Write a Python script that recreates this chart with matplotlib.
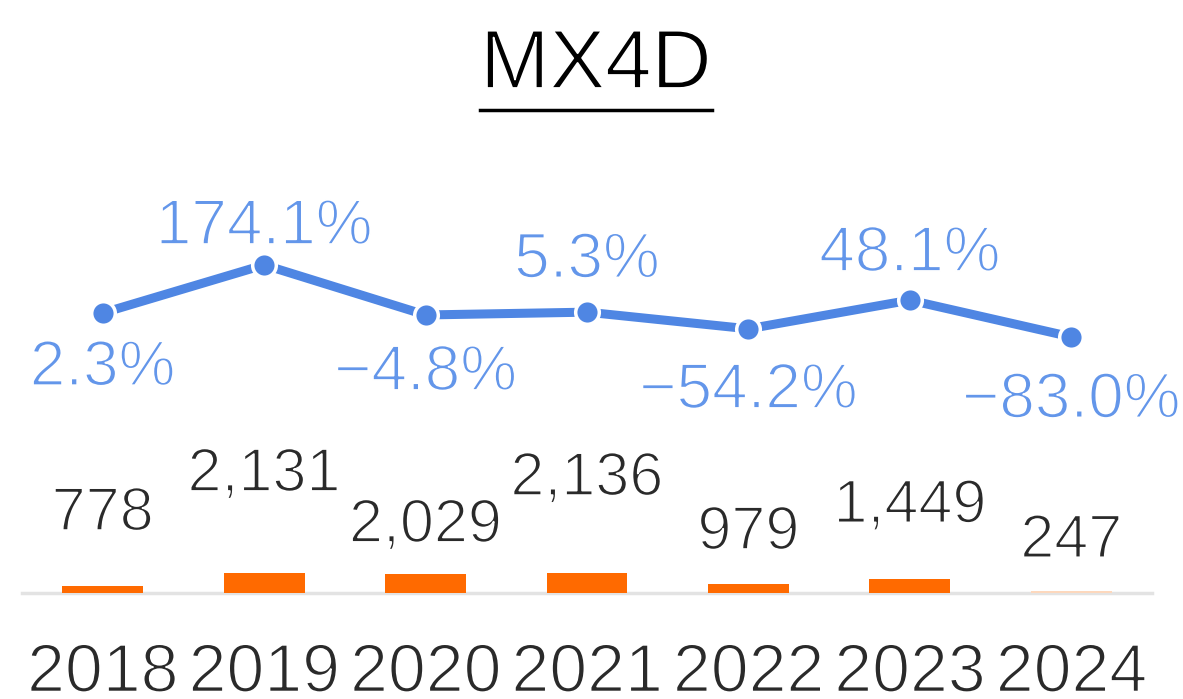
import matplotlib
matplotlib.use("Agg")
import matplotlib.pyplot as plt
from matplotlib.lines import Line2D
import matplotlib.patheffects as pe

# ---- data ----
years = ["2018", "2019", "2020", "2021", "2022", "2023", "2024"]
box_office = [778, 2131, 2029, 2136, 979, 1449, 247]
growth_pct = [2.3, 174.1, -4.8, 5.3, -54.2, 48.1, -83.0]
title = "MX4D"

# ---- style ----
bar_color = "#ff6a00"
bar_faded = "#fdd8bd"
line_color = "#4f86e3"
pct_color = "#6396ea"
text_color = "#2a2a2a"
font = "Liberation Sans"
thin = [pe.Stroke(linewidth=1.3, foreground="white")]
# label offsets (points, baseline relative to mark)
bar_label_off = [40, 59, 23, 56, 25, 41, 24]
pct_label_off = [-52, 15, -54, 25, -57, 21, -58]

W, H = 1183, 699
fig = plt.figure(figsize=(W / 100, H / 100), dpi=100)
left, right = 22 / W, 1152 / W
bottom = (H - 593) / H
top = (H - 160) / H
ax = fig.add_axes([left, bottom, right - left, top - bottom])
ax2 = ax.twinx()

x = list(range(len(years)))
colors = [bar_color] * (len(years) - 1) + [bar_faded]
ax.bar(x, box_office, width=0.5, color=colors, zorder=2)
ax.set_xlim(-0.5, len(years) - 0.5)
ax.set_ylim(0, 46000)

ax2.plot(x, growth_pct, color=line_color, lw=6.5, marker="o", ms=17,
         mfc=line_color, mec="white", mew=2.5, solid_capstyle="butt", zorder=3)
ax2.set_ylim(-997.7, 548.7)

for a in (ax, ax2):
    for s in a.spines.values():
        s.set_visible(False)
    a.set_yticks([])
ax.spines["bottom"].set_visible(True)
ax.spines["bottom"].set_color("#e3e3e3")
ax.spines["bottom"].set_linewidth(2.5)
ax.spines["bottom"].set_zorder(1)

ax.set_xticks(x)
ax.set_xticklabels(years, fontsize=49, color=text_color, fontfamily=font)
for lab in ax.get_xticklabels():
    lab.set_path_effects(thin)
ax.tick_params(axis="x", length=0, pad=35)

for i, (v, off) in enumerate(zip(box_office, bar_label_off)):
    ax.annotate(f"{v:,}", (i, v), xytext=(0, off), textcoords="offset points",
                ha="center", va="baseline", fontsize=44, color=text_color,
                fontfamily=font, annotation_clip=False, path_effects=thin)

for i, (v, off) in enumerate(zip(growth_pct, pct_label_off)):
    s = f"{v:.1f}%".replace("-", "\u2212")
    ax2.annotate(s, (i, v), xytext=(0, off), textcoords="offset points",
                 ha="center", va="baseline", fontsize=46, color=pct_color,
                 fontfamily=font, annotation_clip=False, path_effects=thin)

t = fig.text(596 / W, 1 - 88 / H, title, ha="center", va="baseline",
             fontsize=60, color="black", fontfamily=font, path_effects=thin)
fig.canvas.draw()
bb = t.get_window_extent()
uy = 1 - 110 / H
fig.add_artist(Line2D([bb.x0 / W, bb.x1 / W], [uy, uy], color="black",
                      lw=2.5, transform=fig.transFigure))

fig.savefig("out.png", dpi=100)
